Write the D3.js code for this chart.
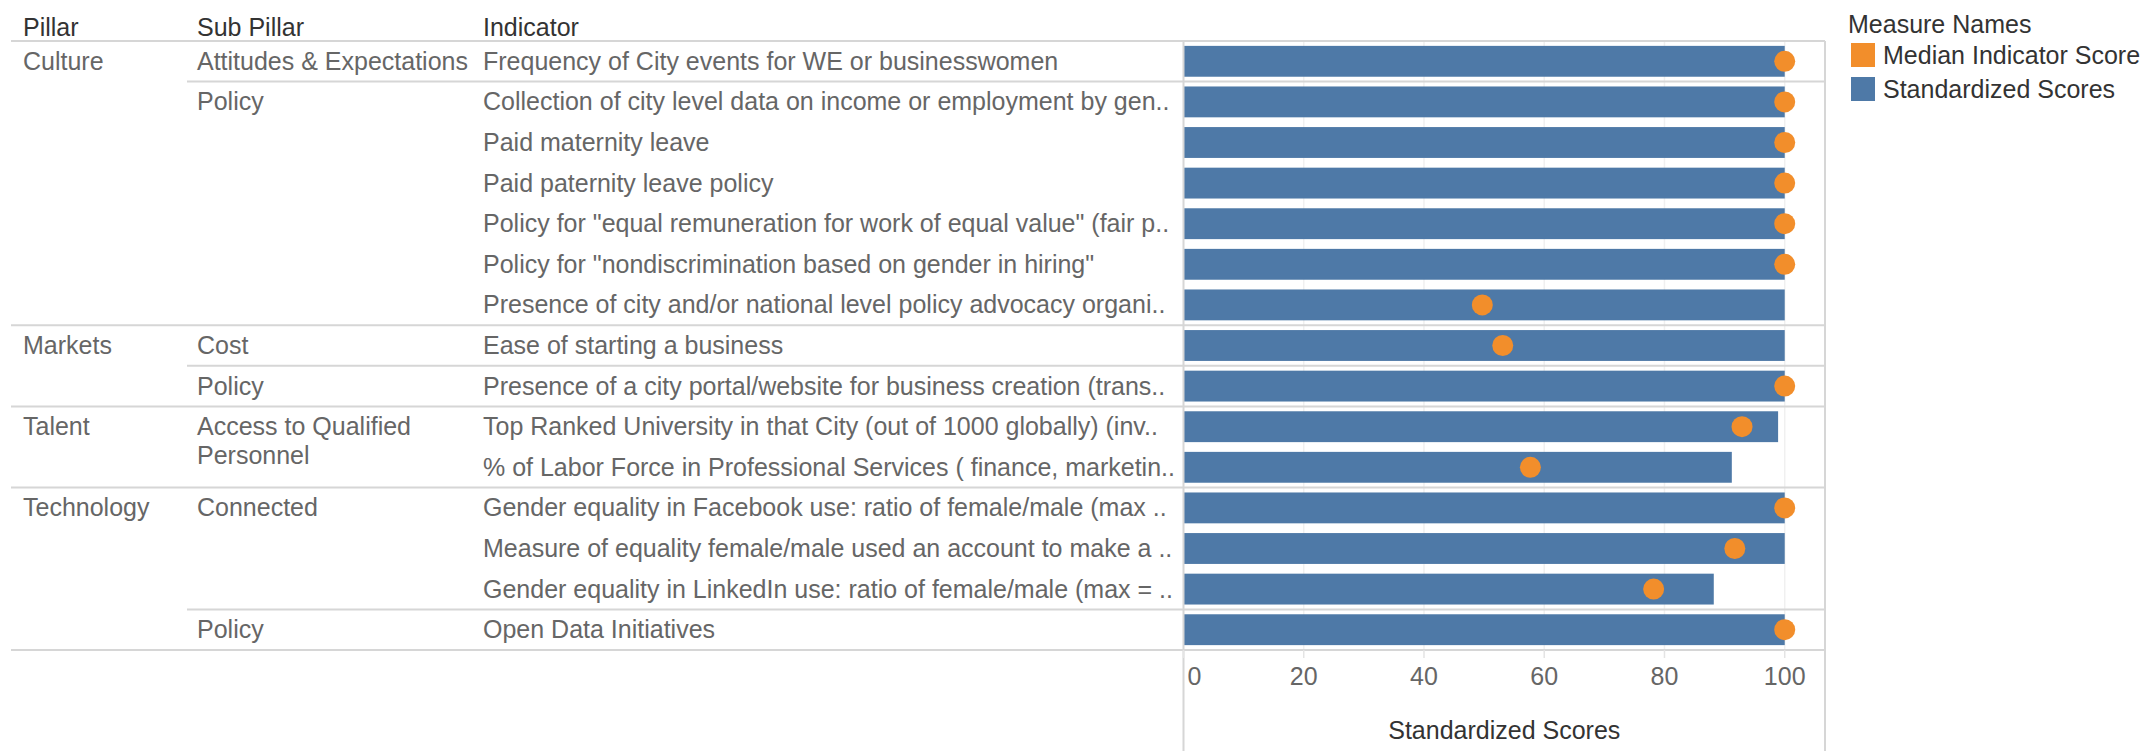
<!DOCTYPE html>
<html>
<head>
<meta charset="utf-8">
<script src="https://cdn.jsdelivr.net/npm/d3@7"></script>
<style>
  body { margin: 0; background: #fff; }
  text { font-family: "Liberation Sans", Arial, sans-serif; }
</style>
</head>
<body>
<div id="chart"></div>
<script>
// Row labels, one entry per indicator row
const pillars = ["Culture", "Culture", "Culture", "Culture", "Culture", "Culture", "Culture",
  "Markets", "Markets", "Talent", "Talent", "Technology", "Technology", "Technology", "Technology"];
const subPillars = ["Attitudes & Expectations", "Policy", "Policy", "Policy", "Policy", "Policy", "Policy",
  "Cost", "Policy", "Access to Qualified Personnel", "Access to Qualified Personnel",
  "Connected", "Connected", "Connected", "Policy"];
const indicators = [
  "Frequency of City events for WE or businesswomen",
  "Collection of city level data on income or employment by gen..",
  "Paid maternity leave",
  "Paid paternity leave policy",
  "Policy for \"equal remuneration for work of equal value\" (fair p..",
  "Policy for \"nondiscrimination based on gender in hiring\"",
  "Presence of city and/or national level policy advocacy organi..",
  "Ease of starting a business",
  "Presence of a city portal/website for business creation (trans..",
  "Top Ranked University in that City (out of 1000 globally) (inv..",
  "% of Labor Force in Professional Services ( finance, marketin..",
  "Gender equality in Facebook use: ratio of female/male (max ..",
  "Measure of equality female/male used an account to make a ..",
  "Gender equality in LinkedIn use: ratio of female/male (max = ..",
  "Open Data Initiatives"
];
const standardizedScores = [100, 100, 100, 100, 100, 100, 100, 100, 100, 98.9, 91.2, 100, 100, 88.2, 100];
const medianScores = [100, 100, 100, 100, 100, 100, 49.7, 53.1, 100, 92.9, 57.7, 100, 91.7, 78.2, 100];
const xTicks = [0, 20, 40, 60, 80, 100];
const legendNames = ["Median Indicator Score", "Standardized Scores"];
const legendColors = ["#f28e2b", "#4e79a7"];

const W = 2148, H = 751;
const yTop = 41, yBottom = 650;
const plotLeft = 1183.5, plotRight = 1825;
const colPillar = 23, colSub = 197, colInd = 483;
const lineColor = "#d6d6d6";

const svg = d3.select("#chart").append("svg")
  .attr("width", W)
  .attr("height", H);

const rows = d3.range(indicators.length);

const y = d3.scaleBand()
  .domain(rows)
  .range([yTop, yBottom])
  .paddingInner(0.24)
  .paddingOuter(0.12);

const x = d3.scaleLinear()
  .domain([0, 106.7])
  .range([plotLeft, plotRight]);

// header
svg.selectAll(".hdr")
  .data([["Pillar", colPillar], ["Sub Pillar", colSub], ["Indicator", colInd]])
  .join("text")
  .attr("x", d => d[1])
  .attr("y", 36)
  .attr("font-size", 25)
  .attr("fill", "#333")
  .text(d => d[0]);

// vertical gridlines in the plot
svg.selectAll(".grid")
  .data(xTicks.slice(1))
  .join("line")
  .attr("x1", d => x(d)).attr("x2", d => x(d))
  .attr("y1", yTop).attr("y2", yBottom)
  .attr("stroke", "#f0f0f0")
  .attr("stroke-width", 1.5);

// bars
svg.selectAll(".bar")
  .data(rows)
  .join("rect")
  .attr("x", x(0))
  .attr("y", i => y(i))
  .attr("width", i => x(standardizedScores[i]) - x(0))
  .attr("height", y.bandwidth())
  .attr("fill", legendColors[1]);

// median dots
svg.selectAll(".dot")
  .data(rows)
  .join("circle")
  .attr("cx", i => x(medianScores[i]))
  .attr("cy", i => y(i) + y.bandwidth() / 2)
  .attr("r", 10.5)
  .attr("fill", legendColors[0]);

// row separators
const step = y.step();
const seps = [{y: yTop, x1: 11}];
rows.slice(1).forEach(i => {
  if (pillars[i] !== pillars[i - 1]) seps.push({y: yTop + step * i, x1: 11});
  else if (subPillars[i] !== subPillars[i - 1]) seps.push({y: yTop + step * i, x1: 187});
});
seps.push({y: yBottom, x1: 11});

svg.selectAll(".sep")
  .data(seps)
  .join("line")
  .attr("x1", d => d.x1).attr("x2", plotRight)
  .attr("y1", d => d.y).attr("y2", d => d.y)
  .attr("stroke", lineColor)
  .attr("stroke-width", 2);

// plot borders
svg.selectAll(".vborder")
  .data([plotLeft, plotRight])
  .join("line")
  .attr("x1", d => d).attr("x2", d => d)
  .attr("y1", yTop).attr("y2", H)
  .attr("stroke", lineColor)
  .attr("stroke-width", 2);

// indicator labels
svg.selectAll(".ind")
  .data(rows)
  .join("text")
  .attr("x", colInd)
  .attr("y", i => y(i) + y.bandwidth() / 2 + 8.5)
  .attr("font-size", 25)
  .attr("fill", "#666")
  .text(i => indicators[i]);

// pillar labels at the first row of each group
const pillarStarts = rows.filter(i => i === 0 || pillars[i] !== pillars[i - 1]);
svg.selectAll(".pil")
  .data(pillarStarts)
  .join("text")
  .attr("x", colPillar)
  .attr("y", i => y(i) + y.bandwidth() / 2 + 8.5)
  .attr("font-size", 25)
  .attr("fill", "#666")
  .text(i => pillars[i]);

// sub pillar labels, wrapped like the original
const subStarts = rows.filter(i => i === 0 || pillars[i] !== pillars[i - 1] || subPillars[i] !== subPillars[i - 1]);
svg.selectAll(".sub")
  .data(subStarts)
  .join("text")
  .attr("x", colSub)
  .attr("y", i => y(i) + y.bandwidth() / 2 + 8.5)
  .attr("font-size", 25)
  .attr("fill", "#666")
  .each(function (i) {
    const t = d3.select(this);
    const label = subPillars[i];
    const lines = label === "Access to Qualified Personnel" ? ["Access to Qualified", "Personnel"] : [label];
    lines.forEach((l, k) => {
      t.append("tspan").attr("x", colSub).attr("dy", k === 0 ? 0 : 29).text(l);
    });
  });

// x axis
const axis = svg.append("g");
axis.selectAll(".tick")
  .data(xTicks)
  .join("line")
  .attr("x1", d => x(d)).attr("x2", d => x(d))
  .attr("y1", yBottom).attr("y2", yBottom + 8)
  .attr("stroke", "#e4e4e4")
  .attr("stroke-width", 1.5);
axis.selectAll(".tlabel")
  .data(xTicks)
  .join("text")
  .attr("x", d => d === 0 ? x(d) + 4 : x(d))
  .attr("y", 685)
  .attr("text-anchor", d => d === 0 ? "start" : "middle")
  .attr("font-size", 25)
  .attr("fill", "#666")
  .text(d => d);
axis.append("text")
  .attr("x", (plotLeft + plotRight) / 2)
  .attr("y", 739)
  .attr("text-anchor", "middle")
  .attr("font-size", 25)
  .attr("fill", "#333")
  .text("Standardized Scores");

// legend
const legend = svg.append("g");
legend.append("text")
  .attr("x", 1848)
  .attr("y", 33)
  .attr("font-size", 25)
  .attr("fill", "#333")
  .text("Measure Names");
legend.selectAll(".lsw")
  .data(legendNames)
  .join("rect")
  .attr("x", 1851)
  .attr("y", (d, i) => 43 + i * 34)
  .attr("width", 24)
  .attr("height", 24)
  .attr("fill", (d, i) => legendColors[i]);
legend.selectAll(".ltx")
  .data(legendNames)
  .join("text")
  .attr("x", 1883)
  .attr("y", (d, i) => 64 + i * 34)
  .attr("font-size", 25)
  .attr("fill", "#333")
  .text(d => d);
</script>
</body>
</html>
